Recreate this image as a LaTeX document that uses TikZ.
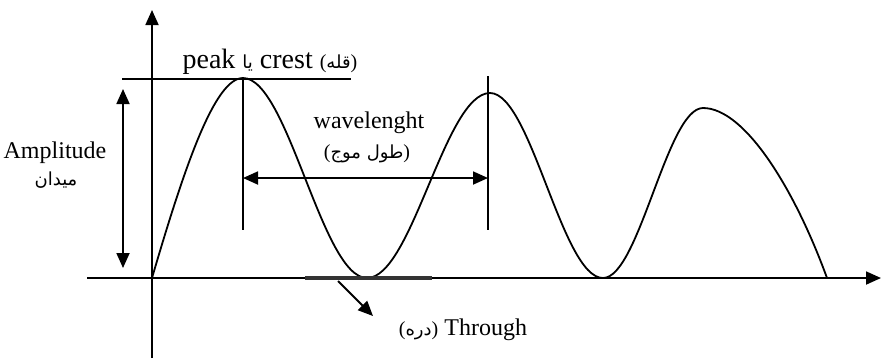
\documentclass[tikz,border=0pt]{standalone}
\usepackage{fontspec}
\setmainfont{Liberation Serif}
\newfontfamily\arabicfont[Script=Arabic]{DejaVu Sans}
\TeXXeTstate=1
\usetikzlibrary{arrows.meta, positioning}

\newcommand\fatext[1]{{\arabicfont\fontsize{9}{11}\selectfont\beginR #1\endR}}
\newcommand\faparen[1]{{\fontsize{10}{12}\selectfont(\fatext{#1})}}

\begin{document}
\begin{tikzpicture}[
    x=0.5pt, y=-0.5pt,
    line width=0.9pt,
    tip/.style={-{Triangle[length=7.5pt, width=6.5pt]}},
    both/.style={{Triangle[length=7.5pt, width=6.5pt]}-{Triangle[length=7.5pt, width=6.5pt]}},
    lbl/.style={inner sep=0pt, anchor=base, font=\fontsize{12}{14}\selectfont},
    bar/.style={line width=1.6pt, draw=black!80}
]
\useasboundingbox (0,0) rectangle (882,361);

% Axes
\coordinate (o) at (152,278);
\coordinate (ytop) at (152,10);
\coordinate (ybot) at (152,358);
\coordinate (xl) at (87,278);
\coordinate (xr) at (881,278);
\draw[tip] (ybot) -- (ytop);
\draw[tip] (xl) -- (xr);

% Wave
\draw (o) .. controls (185,165) and (215,78) .. (243,78) coordinate (p1)
    .. controls (288,78) and (322,278) .. (367,278) coordinate (t1)
    .. controls (412,278) and (445,93) .. (490,93) coordinate (p2)
    .. controls (531,93) and (562,278) .. (603,278) coordinate (t2)
    .. controls (639,278) and (667,108) .. (703,108) coordinate (p3)
    .. controls (745,108) and (795,190) .. (827,278) coordinate (e);

% Crest line and markers
\coordinate (cl) at (122,79);
\coordinate (cr) at (351,79);
\coordinate (v1t) at (243,79);
\coordinate (v1b) at (243,230);
\coordinate (v2t) at (488,76);
\coordinate (v2b) at (488,230);
\draw (cl) -- (cr);
\draw (v1t) -- (v1b);
\draw (v2t) -- (v2b);

% Dimension arrows
\coordinate (w1) at (243,178);
\coordinate (w2) at (488,178);
\coordinate (a1) at (123,89);
\coordinate (a2) at (123,268);
\draw[both] (w1) -- (w2);
\draw[both] (a1) -- (a2);

% Trough
\coordinate (tl) at (305,278);
\coordinate (tr) at (432,278);
\coordinate (ts) at (338,281);
\coordinate (te) at (373,316);
\draw[bar] (tl) -- (tr);
\draw[tip] (ts) -- (te);

% Labels
\node[lbl, font=\fontsize{14}{16}\selectfont] (crest) at (270,68) {peak \fatext{یا} crest \faparen{قله}};
\node[lbl] (wavelen) at (369,128) {wavelenght};
\node[lbl] (wavefa) at (367,158) {\faparen{طول موج}};
\node[lbl] (amp) at (55,158) {Amplitude};
\node[lbl] (ampfa) at (56,185) {\fatext{میدان}};
\node[lbl, anchor=base west] (trough) at (398,335) {\faparen{دره} Through};

\end{tikzpicture}
\end{document}
